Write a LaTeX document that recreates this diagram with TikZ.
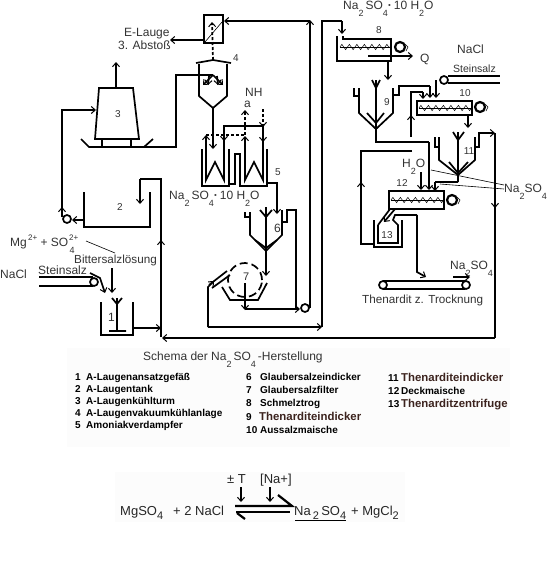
\documentclass[tikz,border=0pt]{standalone}
\usepackage{fontspec}
\setmainfont{Liberation Sans}
\usetikzlibrary{arrows.meta,decorations.pathmorphing}
\newcommand{\dn}[1]{\raisebox{-0.6em}{\fontsize{9}{9}\selectfont #1}}
\newcommand{\dnq}[1]{\raisebox{-0.38em}{\fontsize{11}{11}\selectfont #1}}
\newcommand{\up}[1]{\raisebox{0.42em}{\footnotesize #1}}
\definecolor{txt}{gray}{0.2}
\definecolor{brown1}{RGB}{60,35,30}
\tikzset{
 x=1pt,y=-1pt,
 pipe/.style={line width=1.7pt,line join=miter,black},
 flow/.style={pipe,-{Straight Barb[length=4pt,width=7pt,line width=1pt]}},
 heavy/.style={line width=2.2pt,black},
 dots/.style={line width=1.7pt,dash pattern=on 3pt off 2pt,black},
 dotflow/.style={dots,-{Straight Barb[length=4pt,width=7pt,line width=1pt,sep=0pt]}},
 thinl/.style={line width=0.6pt,black},
 lab/.style={inner sep=0pt,anchor=base west,text=txt,font=\fontsize{12}{12}\selectfont},
 num/.style={inner sep=0pt,text=txt,font=\fontsize{10}{10}\selectfont},
 leg/.style={inner sep=0pt,anchor=base west,text=black,font=\bfseries\fontsize{10}{10}\selectfont},
 legb/.style={inner sep=0pt,anchor=base west,text=brown1,font=\bfseries\fontsize{11.4}{11}\selectfont},
 wheel/.style={circle,draw=black,line width=1.7pt,fill=white,minimum size=8pt,inner sep=0pt},
 wheelb/.style={circle,draw=black,line width=2.2pt,fill=none,minimum size=10pt,inner sep=0pt},
 eqt/.style={lab,text=black!85,font=\fontsize{13}{13}\selectfont},
}
\newcommand{\zig}[3]{%
 \draw[line width=0.5pt] (#1,#3) -- (#2,#3);
 \draw[line width=0.5pt,decorate,decoration={zigzag,segment length=7.5pt,amplitude=2.6pt}] (#1,#3) -- (#2,#3);}
\begin{document}
\begin{tikzpicture}
\useasboundingbox (0,0) rectangle (548,563);
\fill[gray!2] (67,348) rectangle (510,447);
\fill[gray!2] (115,472) rectangle (405,522);

% --- top filter box
\draw[pipe] (204,15) rectangle (223,43);
\draw[thinl] (205,42) -- (222,22);
\draw[dotflow] (213,60) -- (212,22);
\coordinate (efree) at (170,40);
\draw[flow] (204,40) -- (efree);
\draw[flow] (310,21) -- (224,21);
\node[lab] (elauge) at (124,36) {E-Lauge};
\node[lab] (abstoss) at (118,49) {3. Abstoß};
% --- vessel 4
\draw[pipe] (196,63) -- (213,60) -- (231,63);
\draw[pipe] (199,64) -- (199,96) -- (213,108) -- (227,96) -- (227,64);
\draw[pipe] (90,147) -- (176,147) -- (176,75) -- (213,75);
\draw[flow] (213,75) -- (203,85);
\draw[flow] (213,75) -- (223,85);
\draw[flow] (209,76) -- (208,85);
\draw[flow] (217,76) -- (218,85);
\draw[flow] (213,108) -- (213,149);
\node[num] (n4) at (236,58) {4};
% --- tower 3
\draw[pipe] (99,88) -- (133,88) -- (139,139) -- (95,139) -- cycle;
\draw[flow] (116,88) -- (116,62);
\draw[pipe] (102,139) -- (102,147) (131,139) -- (131,147);
\draw[pipe] (81,139) -- (89,147) -- (90,147) (144,147) -- (153,139);
\node[num] (n3) at (118,114) {3};
\draw[flow] (62,217) -- (62,110) -- (96,110);
% --- evaporators 5
\draw[pipe] (202,149) -- (202,186) -- (229,186) -- (229,149);
\draw[pipe] (229,184) -- (235,184) -- (235,154) -- (240,154) -- (240,186) -- (267,186) -- (267,149);
\draw[pipe] (206,137) -- (206,180) -- (215,162) -- (224,180) -- (224,126) -- (263,126);
\draw[pipe] (245,137) -- (245,180) -- (254,162) -- (263,180) -- (263,126);
\draw[flow] (224,130) -- (224,141);
\draw[flow] (206,146) -- (206,135);
\draw[flow] (245,146) -- (245,136);
\draw[flow] (263,130) -- (263,142);
\draw[dots] (206,135) -- (245,135);
\draw[dotflow] (245,135) -- (245,110);
\draw[dotflow] (263,109) -- (263,127);
\node[lab] (nh) at (245,96) {NH};
\node[lab] (a) at (244,107) {a};
\node[num] (n5) at (278,172) {5};
\draw[flow] (267,183) -- (277,183) -- (277,214);
\node[lab] (deca) at (169,199) {Na\dn{2}\,SO\dn{4}\textbf{·}\,10 H\dn{2}O};
% --- thickener 6
\draw[pipe] (245,212) -- (245,217) -- (250,217) (250,212) -- (250,235) -- (266,251) -- (282,235) -- (282,210);
\draw[pipe] (282,222) -- (287,222) -- (287,210) -- (296,210) -- (296,309);
\draw[pipe] (266,207) -- (266,251);
\draw[pipe] (260,210) -- (266,217) -- (272,210);
\draw[pipe] (255,240) -- (266,248) -- (277,240);
\draw[flow] (266,251) -- (266,276);
\node[lab] (n6) at (274,232) {6};
% --- filter 7
\draw[pipe,dash pattern=on 8pt off 4pt] (245,280) circle[radius=17pt];
\draw[pipe] (222,287) -- (230,300) -- (258,300) -- (267,283);
\draw[flow] (245,283) -- (245,310);
\draw[flow] (245,309) -- (300,309);
\node[lab,font=\fontsize{11}{11}\selectfont] (n7) at (243,280) {7};
\draw[pipe] (209,285) -- (227,271) (212,288) -- (230,275);
\draw[flow] (208,327) -- (208,287) -- (214,281);
\draw[flow] (208,327) -- (322,327);
\node[wheel] (w67) at (305,308) {};
\draw[pipe] (310,308) -- (310,21);
\draw[flow] (310,40) -- (310,20);
\draw[pipe] (322,327) -- (322,21) -- (342,21);
\draw[flow] (342,21) -- (342,34);
% --- tank 2
\draw[pipe] (84,192) -- (84,227) -- (150,227) -- (150,192);
\node[num] (n2) at (120,207) {2};
\draw[pipe] (161,337) -- (161,179) -- (140,179);
\draw[flow] (140,179) -- (140,204);
\draw[flow] (161,250) -- (161,240);
\node[wheel] (w2) at (67,219) {};
\draw[flow] (84,220) -- (72,220);
\draw[flow] (62,217) -- (62,207);
\node[lab] (mg) at (10,246) {Mg\up{\,2+} + SO\hspace{0.1em}\dn{4}\hspace{-0.45em}\up{2+}};
\node[lab,font=\fontsize{11.7}{11}\selectfont] (bitter) at (74,263) {Bittersalzlösung};
\node[lab] (nacl1) at (0,278) {NaCl};
\node[lab,font=\fontsize{12}{11}\selectfont] (st1) at (38,274) {Steinsalz};
\draw[thinl] (86,241) -- (115,253);
\draw[flow] (112,268) -- (112,293);
\draw[pipe] (39,277) -- (93,277) (39,286) -- (93,286);
\node[wheel] (w1) at (94,282) {};
\draw[flow] (90,273) -- (100,278) -- (105,293);
% --- vessel 1
\draw[pipe] (101,302) -- (101,335) -- (133,335) -- (133,302);
\draw[pipe] (117,298) -- (117,331) (109,331) -- (126,331) (112,298) -- (117,304) -- (122,298);
\node[lab] (n1) at (108,321) {1};
\draw[flow] (133,328) -- (161,328);
\draw[flow] (495,338) -- (162,338);
\draw[pipe] (495,338) -- (495,133);
\draw[flow] (495,190) -- (495,208);
\draw[flow] (478,133) -- (495,133);
% --- melter 8
\node[lab] (top) at (343,9) {Na\dn{2}\,SO\dn{4}\textbf{·}\,10 H\dn{2}O};
\draw[pipe] (343,36) -- (343,39) -- (391,39) -- (391,61) -- (337,61) -- (337,36);
\zig{340}{391}{47}
\node[wheelb] (w8) at (400,47) {};
\draw[thinl] (405,44) -- (408,47) -- (406,51);
\draw[flow] (368,56) -- (413,56);
\node[lab] (q) at (420,62) {Q};
\node[num] (n8) at (379,30) {8};
\draw[flow] (388,61) -- (388,80);
\node[lab] (nacl2) at (457,53) {NaCl};
\node[lab,font=\fontsize{10.5}{10}\selectfont] (st2) at (453,72) {Steinsalz};
\draw[pipe] (448,76) -- (500,76) (448,83) -- (500,83);
\node[wheel] (w10) at (444,80) {};
\draw[flow] (436,80) -- (436,98);
% --- thickener 9
\draw[pipe] (354,88) -- (354,96) -- (359,96) (359,88) -- (359,113) -- (376,129) -- (393,113) -- (393,88);
\draw[pipe] (393,95) -- (399,95) -- (399,86) -- (430,86);
\draw[flow] (430,86) -- (430,98);
\draw[pipe] (376,80) -- (376,129) (372,80) -- (376,88) -- (380,80);
\draw[pipe] (367,113) -- (376,123) -- (384,113);
\node[num] (n9) at (387,102) {9};
\draw[pipe] (376,129) -- (376,142) -- (429,142);
\draw[flow] (429,142) -- (429,190);
\draw[pipe] (411,137) -- (411,92) -- (423,92);
\draw[flow] (423,92) -- (423,99);
\draw[flow] (411,125) -- (411,115);
% --- mash 10
\draw[heavy] (417,101) rectangle (472,115);
\zig{419}{472}{108}
\node[wheelb] (w10b) at (480,107) {};
\draw[thinl] (485,104) -- (488,107) -- (486,111);
\node[num] (n10) at (465,93) {10};
\draw[flow] (468,115) -- (468,128);
% --- thickener 11
\draw[pipe] (435,137) -- (435,147) -- (439,147) (439,137) -- (439,160) -- (458,175) -- (475,160) -- (475,137);
\draw[pipe] (475,147) -- (479,147) -- (479,133);
\draw[pipe] (458,132) -- (458,182) (453,132) -- (458,140) -- (464,132);
\draw[pipe] (449,162) -- (458,173) -- (468,162);
\node[num] (n11) at (469,151) {11};
\draw[pipe] (458,182) -- (435,182);
\draw[flow] (435,182) -- (435,191);
% --- mash 12
\draw[pipe] (412,151) -- (361,151) -- (361,244) -- (373,244);
\draw[flow] (361,195) -- (361,182);
\draw[heavy] (389,191) rectangle (444,209);
\zig{391}{444}{200}
\node[wheelb] (w12) at (452,200) {};
\draw[thinl] (457,197) -- (460,200) -- (458,204);
\node[num] (n12) at (402,183) {12};
\node[lab] (h2o) at (402,167) {H\dn{2}O};
\draw[flow] (421,172) -- (421,190);
\draw[thinl] (431,170) -- (504,185) (440,184) -- (504,189);
\node[lab] (na2) at (504,192) {Na\dn{2}SO\dn{4}};
% --- centrifuge 13
\draw[pipe] (374,220) -- (374,247) -- (402,247) -- (402,220);
\draw[pipe] (378,225) -- (378,243) -- (398,243) -- (398,225) -- (393,220) -- (395,215) -- (417,215);
\draw[flow] (417,215) -- (417,272) -- (426,277);
\draw[flow] (395,209) -- (384,222);
\draw[pipe] (390,209) -- (378,225);
\node[num] (n13) at (387,235) {13};
\draw[pipe] (383,281) -- (465,281) (383,289) -- (465,289);
\node[wheel] (wa) at (383,285) {};
\node[wheel] (wb) at (466,285) {};
\draw[flow] (453,277) -- (470,277);
\node[lab] (na3) at (450,269) {Na\dn{2}SO\dn{4}};
\node[lab,font=\fontsize{11.7}{11}\selectfont] (then) at (362,303) {Thenardit z. Trocknung};
% --- legend
\node[lab] (title) at (143,360) {Schema der Na\dn{2}\,SO\dn{4}\,-Herstellung};
\node[leg] (l1n) at (75,380) {1};  \node[leg] (l1) at (86,380) {A-Laugenansatzgefäß};
\node[leg] (l2n) at (75,392) {2};  \node[leg] (l2) at (86,392) {A-Laugentank};
\node[leg] (l3n) at (75,404) {3};  \node[leg] (l3) at (86,404) {A-Laugenkühlturm};
\node[leg] (l4n) at (75,416) {4};  \node[leg] (l4) at (86,416) {A-Laugenvakuumkühlanlage};
\node[leg] (l5n) at (75,428) {5};  \node[leg] (l5) at (86,428) {Amoniakverdampfer};
\node[leg] (l6n) at (246,380) {6}; \node[leg] (l6) at (260,380) {Glaubersalzeindicker};
\node[leg] (l7n) at (246,393) {7}; \node[leg] (l7) at (260,393) {Glaubersalzfilter};
\node[leg] (l8n) at (246,406) {8}; \node[leg] (l8) at (260,406) {Schmelztrog};
\node[leg] (l9n) at (246,420) {9}; \node[legb] (l9) at (259,420) {Thenarditeindicker};
\node[leg] (l10) at (246,433) {10 Aussalzmaische};
\node[leg] (l11n) at (388,381) {11}; \node[legb] (l11) at (401,381) {Thenarditeindicker};
\node[leg] (l12n) at (388,394) {12}; \node[leg] (l12) at (401,394) {Deckmaische};
\node[leg] (l13n) at (388,407) {13}; \node[legb] (l13) at (401,407) {Thenarditzentrifuge};
% --- equation
\node[eqt] (eq1) at (120,515) {MgSO\dnq{4}};
\node[eqt] (eq2) at (173,515) {+ 2 NaCl};
\node[eqt] (pm) at (227,483) {± T};
\node[eqt] (na) at (260,483) {[Na+]};
\node[eqt] (eq3) at (294,515) {Na\,\dnq{2}\,SO\dnq{4}};
\node[eqt] (eq4) at (351,515) {+ MgCl\dnq{2}};
\draw[flow] (241,487) -- (241,502);
\draw[flow] (270,487) -- (270,502);
\draw[heavy] (235,506) -- (292,506) -- (278,495);
\draw[heavy] (236,512) -- (290,512);
\draw[heavy] (237,513) -- (245,519);
\draw[line width=0.6pt] (295,520) -- (346,520);
\end{tikzpicture}
\end{document}
